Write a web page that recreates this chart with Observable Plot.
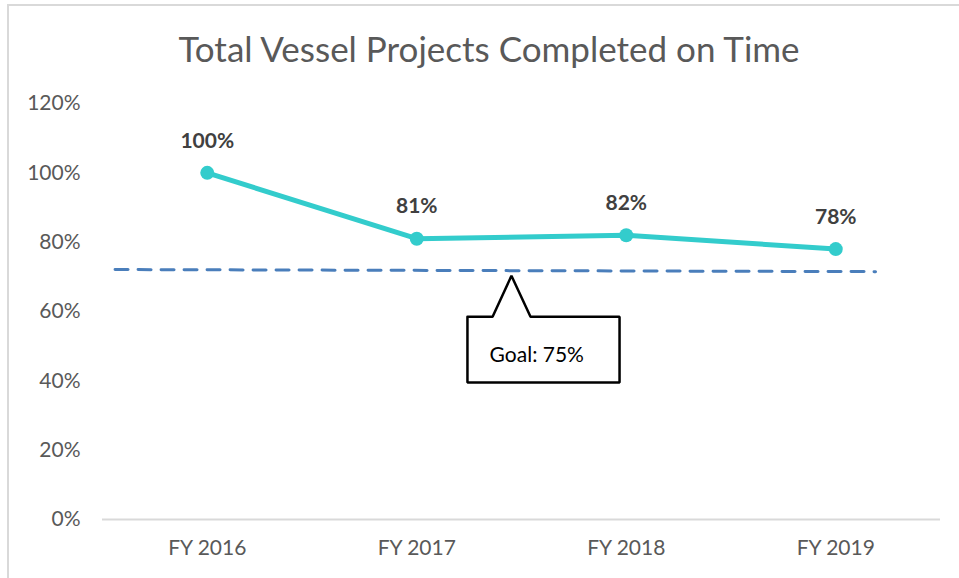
<!DOCTYPE html>
<html>
<head>
<meta charset="utf-8">
<script src="https://cdn.jsdelivr.net/npm/d3@7"></script>
<script src="https://cdn.jsdelivr.net/npm/@observablehq/plot@0.6"></script>
<style>
  html, body { margin: 0; padding: 0; background: #fff; }
  #wrap { position: relative; width: 959px; height: 578px; overflow: hidden; font-family: Lato, "Open Sans", sans-serif; }
  #frame { position: absolute; left: 7px; top: 4px; width: 1000px; height: 1000px; border-top: 2px solid #d9d9d9; border-left: 2px solid #d9d9d9; }
  #title { position: absolute; left: 0; width: 978px; top: 31px; text-align: center; font-size: 35px; font-weight: 400; color: #595959; line-height: 1; white-space: nowrap; }
  #chart { position: absolute; left: 0; top: 0; }
</style>
</head>
<body>
<div id="wrap">
  <div id="frame"></div>
  <div id="chart"></div>
  <div id="title">Total Vessel Projects Completed on Time</div>
</div>
<script>
// Data
const years = ["FY 2016", "FY 2017", "FY 2018", "FY 2019"];
const onTime = [100, 81, 82, 78];
const yTicks = [0, 20, 40, 60, 80, 100, 120];
// Goal reference line (as drawn, slightly sloped) in category-index / percent units
const goalX = [-0.44, 3.19];
const goalY = [72.1, 71.5];
const goalLabel = "Goal: 75%";
// Callout outline (category-index / percent units)
const calloutX = [1.242, 1.362, 1.452, 1.543, 1.968, 1.968, 1.242, 1.242];
const calloutY = [58.5, 58.5, 70.3, 58.5, 58.5, 39.5, 39.5, 58.5];
const calloutTextX = [1.573];
const calloutTextY = [47.3];

const pts = years.map((c, i) => ({i, c, v: onTime[i]}));
const goal = goalX.map((x, k) => ({x, y: goalY[k]}));
const callout = calloutX.map((x, k) => ({x, y: calloutY[k]}));

const chart = Plot.plot({
  width: 959,
  height: 578,
  marginLeft: 102,
  marginRight: 19,
  marginTop: 103,
  marginBottom: 59,
  style: { fontFamily: "Lato, 'Open Sans', sans-serif", background: "transparent", overflow: "visible" },
  x: { type: "linear", domain: [-0.5, 3.5], axis: null },
  y: { domain: [0, 120], axis: null },
  marks: [
    Plot.axisY({ ticks: yTicks, tickSize: 0, tickPadding: 22, tickFormat: d => d + "%", fontSize: 21, color: "#595959", label: null }),
    Plot.axisX({ ticks: [0, 1, 2, 3], tickSize: 0, tickPadding: 21, tickFormat: i => years[i], fontSize: 21, color: "#595959", label: null }),
    Plot.ruleY([0], { stroke: "#d9d9d9", strokeWidth: 2 }),
    Plot.line(goal, { x: "x", y: "y", stroke: "#4a7ebb", strokeWidth: 3, strokeDasharray: "13,10" }),
    Plot.line(callout, { x: "x", y: "y", stroke: "#000", fill: "#fff", strokeWidth: 2.5, strokeLinejoin: "miter" }),
    Plot.text([goalLabel], { x: calloutTextX, y: calloutTextY, text: d => d, fontSize: 21, fill: "#000" }),
    Plot.line(pts, { x: "i", y: "v", stroke: "#33cccc", strokeWidth: 5 }),
    Plot.dot(pts, { x: "i", y: "v", r: 7, fill: "#33cccc", stroke: "none" }),
    Plot.text(pts, { x: "i", y: "v", text: d => d.v + "%", dy: -32, fontSize: 21, fontWeight: "bold", fill: "#404040" })
  ]
});
document.getElementById("chart").appendChild(chart);
</script>
</body>
</html>
